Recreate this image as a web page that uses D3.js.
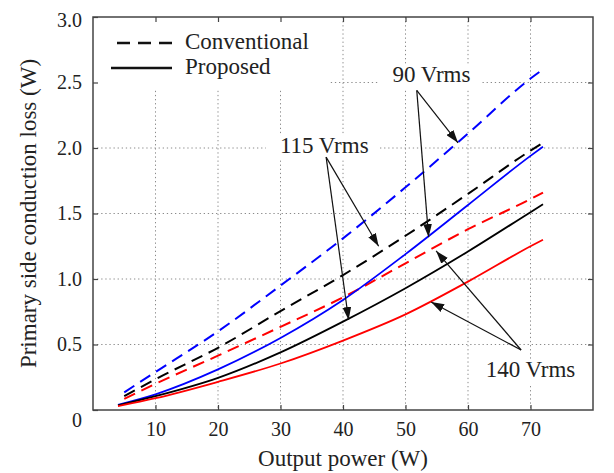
<!DOCTYPE html>
<html>
<head>
<meta charset="utf-8">
<script src="https://cdn.jsdelivr.net/npm/d3@7/dist/d3.min.js"></script>
<style>
  body { margin: 0; background: #fff; }
  text { font-family: "Liberation Serif", "Times New Roman", serif; fill: #222; }
</style>
</head>
<body>
<svg id="chart"></svg>
<script>
// output power (W) sampled along each curve
const powerConv = [5, 10, 20, 30, 40, 50, 60, 70, 72];
const powerProp = [4, 10, 20, 30, 40, 50, 60, 70, 72];

// primary side conduction loss (W)
const conv90  = [0.135, 0.29, 0.60, 0.95, 1.31, 1.70, 2.11, 2.53, 2.60];
const conv115 = [0.105, 0.235, 0.475, 0.755, 1.03, 1.33, 1.65, 1.98, 2.04];
const conv140 = [0.085, 0.20, 0.415, 0.635, 0.86, 1.12, 1.38, 1.61, 1.66];
const prop90  = [0.04, 0.12, 0.31, 0.55, 0.84, 1.19, 1.565, 1.94, 2.01];
const prop115 = [0.035, 0.105, 0.245, 0.44, 0.675, 0.93, 1.21, 1.51, 1.57];
const prop140 = [0.03, 0.09, 0.215, 0.355, 0.53, 0.73, 0.98, 1.25, 1.30];

const xTicks = [10, 20, 30, 40, 50, 60, 70];
const yTicks = [0, 0.5, 1.0, 1.5, 2.0, 2.5, 3.0];

// annotation labels and arrows, in data units
const labels = [
  { text: "90 Vrms", x: 54.15, y: 2.505 },
  { text: "115 Vrms", x: 37.0, y: 1.96 },
  { text: "140 Vrms", x: 70.0, y: 0.252 }
];
const arrows = [
  { from: [51.8, 2.44], to: [58.4, 2.04] },
  { from: [51.8, 2.44], to: [53.7, 1.32] },
  { from: [37.3, 1.93], to: [45.7, 1.25] },
  { from: [37.3, 1.93], to: [40.9, 0.687] },
  { from: [68.5, 0.458], to: [54.9, 1.214] },
  { from: [68.5, 0.458], to: [54.1, 0.824] }
];

const width = 614, height = 473;
const margin = { top: 17, right: 21, bottom: 63, left: 93 };

const svg = d3.select("#chart")
  .attr("width", width)
  .attr("height", height);

const x = d3.scaleLinear().domain([0, 80]).range([margin.left, width - margin.right]);
const y = d3.scaleLinear().domain([0, 3]).range([height - margin.bottom, margin.top]);

svg.append("defs").append("marker")
  .attr("id", "head")
  .attr("markerUnits", "userSpaceOnUse")
  .attr("viewBox", "0 0 12 8")
  .attr("refX", 12).attr("refY", 4)
  .attr("markerWidth", 13).attr("markerHeight", 9)
  .attr("orient", "auto")
  .append("path")
  .attr("d", "M0,0 L12,4 L0,8 Z")
  .attr("fill", "#111");

// dotted grid
const grid = svg.append("g").attr("stroke", "#8a8a8a").attr("stroke-width", 1)
  .attr("stroke-dasharray", "1.3,2.8");
grid.selectAll(".gx").data(xTicks).enter().append("line")
  .attr("x1", d => x(d)).attr("x2", d => x(d))
  .attr("y1", y(3)).attr("y2", y(0));
grid.selectAll(".gy").data(yTicks.slice(1, -1)).enter().append("line")
  .attr("y1", d => y(d)).attr("y2", d => y(d))
  .attr("x1", x(0)).attr("x2", x(80));

const masks = svg.append("g").attr("fill", "#fff");
// legend box hides the grid behind it
masks.append("rect")
  .attr("x", x(0)).attr("y", y(3))
  .attr("width", 235).attr("height", 71);

// curves
const series = [
  { px: powerConv, v: conv90, color: "#0000ff", dash: true },
  { px: powerConv, v: conv115, color: "#000", dash: true },
  { px: powerConv, v: conv140, color: "#ff0000", dash: true },
  { px: powerProp, v: prop90, color: "#0000ff", dash: false },
  { px: powerProp, v: prop115, color: "#000", dash: false },
  { px: powerProp, v: prop140, color: "#ff0000", dash: false }
];

const line = d3.line()
  .x(d => x(d[0]))
  .y(d => y(d[1]))
  .curve(d3.curveMonotoneX);

const curves = svg.append("g").attr("fill", "none");

// labels (with white boxes behind)
const lab = svg.append("g").attr("font-size", 23).attr("text-anchor", "middle");
labels.forEach(l => {
  const t = lab.append("text")
    .attr("x", x(l.x)).attr("y", y(l.y))
    .text(l.text);
  const b = t.node().getBBox();
  masks.append("rect")
    .attr("x", b.x - 14).attr("y", b.y + 2)
    .attr("width", b.width + 24).attr("height", b.height);
});

series.forEach(s => {
  curves.append("path")
    .attr("d", line(s.px.map((p, i) => [p, s.v[i]])))
    .attr("stroke", s.color)
    .attr("stroke-width", s.dash ? 2 : 1.8)
    .attr("stroke-dasharray", s.dash ? "12,7" : null);
});

svg.append("g").selectAll("line").data(arrows).enter().append("line")
  .attr("x1", d => x(d.from[0])).attr("y1", d => y(d.from[1]))
  .attr("x2", d => x(d.to[0])).attr("y2", d => y(d.to[1]))
  .attr("stroke", "#111").attr("stroke-width", 1.2)
  .attr("marker-end", "url(#head)");

// axes, inner ticks on all four sides
const xAxis = d3.axisBottom(x).tickValues(xTicks).tickSize(-5).tickPadding(12);
const yAxis = d3.axisLeft(y).tickValues(yTicks).tickSize(-5).tickPadding(11)
  .tickFormat(d => d === 0 ? "0" : d3.format(".1f")(d));

const gx = svg.append("g")
  .attr("transform", `translate(0,${y(0)})`)
  .call(xAxis);
const gy = svg.append("g")
  .attr("transform", `translate(${x(0)},0)`)
  .call(yAxis);
const gxt = svg.append("g")
  .attr("transform", `translate(0,${y(3)})`)
  .call(d3.axisTop(x).tickValues(xTicks).tickSize(-5).tickFormat(""));
const gyr = svg.append("g")
  .attr("transform", `translate(${x(80)},0)`)
  .call(d3.axisRight(y).tickValues(yTicks.slice(1, -1)).tickSize(-5).tickFormat(""));

[gx, gy, gxt, gyr].forEach(g => {
  g.select(".domain").remove();
  g.selectAll("line").attr("stroke", "#444").attr("stroke-width", 1.2);
  g.selectAll("text")
    .attr("font-family", "Liberation Serif, serif")
    .attr("font-size", 20).attr("fill", "#222");
});
gy.selectAll(".tick text").attr("dy", d => d === 0 ? "0.8em" : d === 3 ? "0.45em" : "0.32em");

svg.append("rect")
  .attr("x", x(0)).attr("y", y(3))
  .attr("width", x(80) - x(0)).attr("height", y(0) - y(3))
  .attr("fill", "none").attr("stroke", "#444").attr("stroke-width", 1.5);

// legend
const lg = svg.append("g");
lg.append("line").attr("x1", 117).attr("x2", 172).attr("y1", 43).attr("y2", 43)
  .attr("stroke", "#111").attr("stroke-width", 2.6).attr("stroke-dasharray", "13,8");
lg.append("line").attr("x1", 111).attr("x2", 172).attr("y1", 68).attr("y2", 68)
  .attr("stroke", "#111").attr("stroke-width", 2.6);
lg.append("text").attr("x", 185).attr("y", 49).attr("font-size", 23).text("Conventional");
lg.append("text").attr("x", 185).attr("y", 74).attr("font-size", 23).text("Proposed");

// axis titles
svg.append("text")
  .attr("x", (x(0) + x(80)) / 2).attr("y", 466)
  .attr("text-anchor", "middle").attr("font-size", 23)
  .text("Output power (W)");
svg.append("text")
  .attr("transform", `translate(36,${(y(0) + y(3)) / 2}) rotate(-90)`)
  .attr("text-anchor", "middle").attr("font-size", 23)
  .text("Primary side conduction loss (W)");
</script>
</body>
</html>
